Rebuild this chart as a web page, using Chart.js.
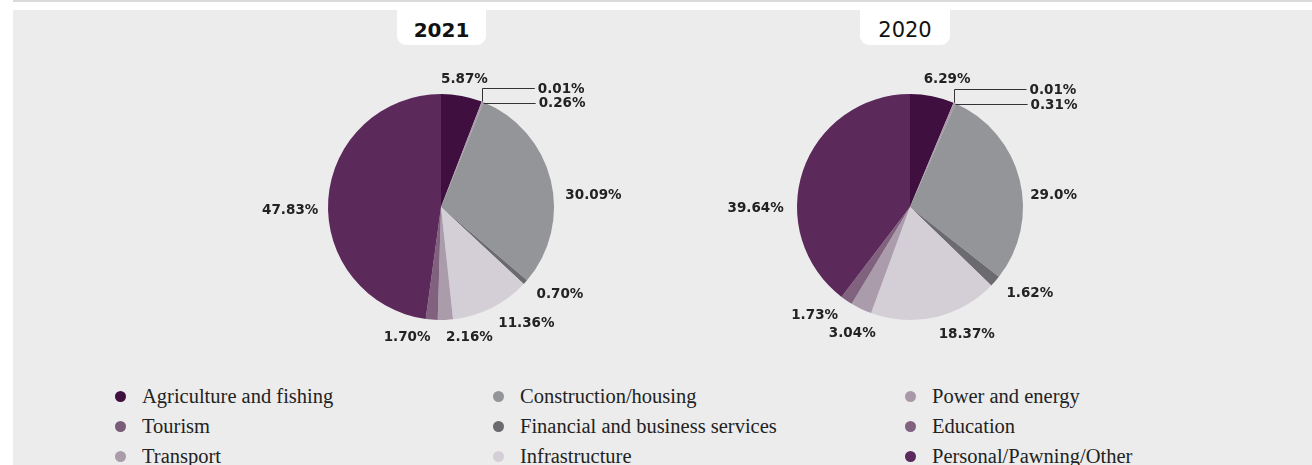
<!DOCTYPE html>
<html><head><meta charset="utf-8">
<script src="https://cdn.jsdelivr.net/npm/chart.js@4"></script>
<style>
html,body{margin:0;padding:0;background:#fff;}
#root{position:relative;width:1312px;height:465px;overflow:hidden;background:#fff;}
#topline{position:absolute;left:13px;top:0;width:1299px;height:2px;background:#dadada;}
#panel{position:absolute;left:13px;top:10px;width:1299px;height:455px;background:#ececec;}
.tbox{position:absolute;top:10px;height:35px;background:#fff;border-radius:0 0 9px 9px;text-align:center;line-height:40px;font-family:"DejaVu Sans",sans-serif;color:#111;}
.cwrap{position:absolute;top:57px;width:440px;height:300px;}
#legend{position:absolute;left:0;top:381px;width:1312px;font-family:"Liberation Serif",serif;font-size:20.5px;color:#222;}
.li{position:absolute;height:30px;line-height:30px;white-space:nowrap;}
.dot{position:absolute;left:-27px;top:10px;width:11px;height:11px;border-radius:50%;}
</style></head>
<body><div id="root">
<div id="topline"></div>
<div id="panel"></div>
<div class="tbox" style="left:397px;width:89px;font-weight:bold;font-size:20px;" id="t1"></div>
<div class="tbox" style="left:860px;width:90px;font-size:21px;" id="t2"></div>
<div class="cwrap" style="left:221px;"><canvas id="c1" width="440" height="300"></canvas></div>
<div class="cwrap" style="left:690px;"><canvas id="c2" width="440" height="300"></canvas></div>
<div id="legend"></div>
</div>
<script>
// ---- data ----
const titles = ["2021", "2020"];
const categories = ["Agriculture and fishing", "Tourism", "Power and energy", "Construction/housing",
  "Financial and business services", "Infrastructure", "Transport", "Education", "Personal/Pawning/Other"];
const values2021 = [5.87, 0.01, 0.26, 30.09, 0.70, 11.36, 2.16, 1.70, 47.83];
const values2020 = [6.29, 0.01, 0.31, 29.0, 1.62, 18.37, 3.04, 1.73, 39.64];
const labels2021 = ["5.87%", "0.01%", "0.26%", "30.09%", "0.70%", "11.36%", "2.16%", "1.70%", "47.83%"];
const labels2020 = ["6.29%", "0.01%", "0.31%", "29.0%", "1.62%", "18.37%", "3.04%", "1.73%", "39.64%"];
const legendOrder = ["Agriculture and fishing", "Construction/housing", "Power and energy",
  "Tourism", "Financial and business services", "Education",
  "Transport", "Infrastructure", "Personal/Pawning/Other"];

// ---- styles ----
const colors = {
  "Agriculture and fishing": "#3e0f3f",
  "Tourism": "#7b5b7a",
  "Power and energy": "#a898a8",
  "Construction/housing": "#949599",
  "Financial and business services": "#6b6b6f",
  "Infrastructure": "#d4cfd6",
  "Transport": "#aa9cab",
  "Education": "#80627f",
  "Personal/Pawning/Other": "#5c295b"
};
const nudge2021 = [[0,-4],[0,0],[0,0],[0,16],[0,0],[0,0],[0,0],[0,0],[5,10]];
const nudge2020 = [[12,-4],[0,0],[0,0],[-4,17],[0,0],[0,0],[21,9],[0,0],[-5,40]];

document.getElementById('t1').textContent = titles[0];
document.getElementById('t2').textContent = titles[1];

const labelPlugin = {
  id: 'sliceLabels',
  afterDatasetsDraw(chart, args, opts) {
    const ctx = chart.ctx;
    const meta = chart.getDatasetMeta(0);
    ctx.save();
    ctx.font = 'bold 13.5px "DejaVu Sans", sans-serif';
    ctx.fillStyle = '#222';
    ctx.strokeStyle = '#333';
    ctx.lineWidth = 1;
    let tiny = 0;
    meta.data.forEach((arc, i) => {
      const p = arc.getProps(['x','y','startAngle','endAngle','outerRadius'], true);
      const mid = (p.startAngle + p.endAngle) / 2;
      const txt = opts.labels[i];
      const v = chart.data.datasets[0].data[i];
      if (v < 0.5) {
        const px = p.x + Math.cos(mid) * p.outerRadius;
        const py = p.y + Math.sin(mid) * p.outerRadius;
        const L = opts.leaderLen;
        let ly;
        ctx.beginPath();
        if (tiny === 0) {
          ly = py - 13.5;
          ctx.moveTo(Math.round(px) + 0.5, py);
          ctx.lineTo(Math.round(px) + 0.5, Math.round(ly) + 0.5);
          ctx.lineTo(px + L, Math.round(ly) + 0.5);
        } else {
          ly = py + 1;
          ctx.moveTo(px + 1, Math.round(ly) + 0.5);
          ctx.lineTo(px + L, Math.round(ly) + 0.5);
        }
        ctx.stroke();
        ctx.textAlign = 'left';
        ctx.textBaseline = 'middle';
        ctx.fillText(txt, px + L + 3, ly + 1);
        tiny++;
        return;
      }
      const r = p.outerRadius + 15;
      let x = p.x + Math.cos(mid) * r;
      let y = p.y + Math.sin(mid) * r + 2.5;
      const ang = mid + Math.PI / 2; // from top, clockwise
      let align;
      if (Math.abs(Math.sin(ang)) < 0.26 && Math.cos(ang) > 0) align = 'center';
      else align = x >= p.x ? 'left' : 'right';
      const n = opts.nudge[i];
      ctx.textAlign = align;
      ctx.textBaseline = 'middle';
      ctx.fillText(txt, x + n[0], y + n[1]);
    });
    ctx.restore();
  }
};

function makePie(id, values, labels, nudge, leaderLen) {
  new Chart(document.getElementById(id), {
    type: 'pie',
    data: {
      labels: categories,
      datasets: [{
        data: values,
        backgroundColor: categories.map(c => colors[c]),
        borderWidth: 0,
        hoverOffset: 0
      }]
    },
    options: {
      responsive: false,
      animation: false,
      layout: { padding: 37 },
      plugins: {
        legend: { display: false },
        tooltip: { enabled: false },
        sliceLabels: { labels: labels, nudge: nudge, leaderLen: leaderLen }
      }
    },
    plugins: [labelPlugin]
  });
}
makePie('c1', values2021, labels2021, nudge2021, 53);
makePie('c2', values2020, labels2020, nudge2020, 73);

// HTML legend (3 columns)
const colX = [142, 520, 932];
const leg = document.getElementById('legend');
legendOrder.forEach((name, i) => {
  const d = document.createElement('div');
  d.className = 'li';
  d.style.left = colX[i % 3] + 'px';
  d.style.top = (Math.floor(i / 3) * 30) + 'px';
  d.innerHTML = '<span class="dot" style="background:' + colors[name] + '"></span>' + name;
  leg.appendChild(d);
});
</script>
</body></html>
